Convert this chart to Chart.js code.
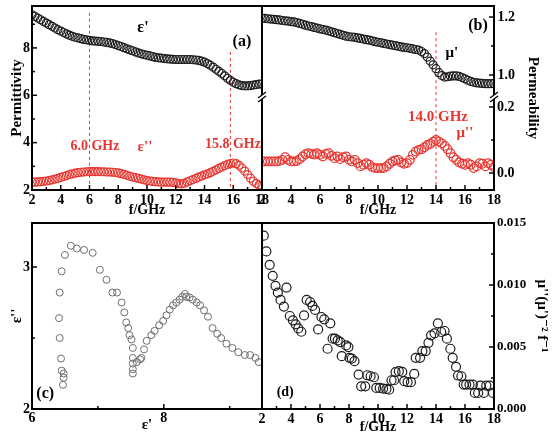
<!DOCTYPE html>
<html>
<head>
<meta charset="utf-8">
<script src="https://cdn.jsdelivr.net/npm/chart.js@4.4.1/dist/chart.umd.min.js"></script>
<style>
  html, body { margin: 0; padding: 0; background: #fff; }
  #wrap { position: relative; width: 555px; height: 438px; }
  #wrap canvas { position: absolute; left: 0; top: 0; }
</style>
</head>
<body>
<div id="wrap">
  <canvas id="panel-a" width="555" height="438"></canvas>
  <canvas id="panel-b" width="555" height="438"></canvas>
  <canvas id="panel-c" width="555" height="438"></canvas>
  <canvas id="panel-d" width="555" height="438"></canvas>
</div>
<script>
// (a)/(b) frequency sweep, GHz
const freq = [2, 2.2, 2.4, 2.6, 2.8, 3, 3.2, 3.4, 3.6, 3.8, 4, 4.2, 4.4, 4.6, 4.8, 5, 5.2, 5.4, 5.6, 5.8,
  6, 6.2, 6.4, 6.6, 6.8, 7, 7.2, 7.4, 7.6, 7.8, 8, 8.2, 8.4, 8.6, 8.8, 9, 9.2, 9.4, 9.6, 9.8,
  10, 10.2, 10.4, 10.6, 10.8, 11, 11.2, 11.4, 11.6, 11.8, 12, 12.2, 12.4, 12.6, 12.8, 13, 13.2, 13.4, 13.6, 13.8,
  14, 14.2, 14.4, 14.6, 14.8, 15, 15.2, 15.4, 15.6, 15.8, 16, 16.2, 16.4, 16.6, 16.8, 17, 17.2, 17.4, 17.6, 17.8, 18];

const epsReal = [9.40, 9.33, 9.26, 9.19, 9.12, 9.05, 8.98, 8.91, 8.84, 8.77,
  8.71, 8.65, 8.59, 8.54, 8.49, 8.45, 8.42, 8.39, 8.36, 8.34,
  8.32, 8.30, 8.29, 8.28, 8.27, 8.25, 8.23, 8.21, 8.18, 8.14,
  8.10, 8.06, 8.01, 7.96, 7.92, 7.88, 7.83, 7.79, 7.75, 7.72,
  7.69, 7.66, 7.63, 7.60, 7.58, 7.57, 7.55, 7.54, 7.53, 7.52,
  7.51, 7.51, 7.51, 7.51, 7.51, 7.51, 7.50, 7.49, 7.47, 7.44,
  7.40, 7.34, 7.27, 7.19, 7.10, 7.01, 6.92, 6.82, 6.72, 6.63,
  6.55, 6.49, 6.44, 6.41, 6.40, 6.40, 6.41, 6.43, 6.45, 6.47, 6.48];

const epsImag = [2.33, 2.33, 2.34, 2.35, 2.36, 2.38, 2.40, 2.43, 2.46, 2.49,
  2.53, 2.57, 2.61, 2.65, 2.68, 2.71, 2.73, 2.75, 2.76, 2.77,
  2.78, 2.78, 2.78, 2.78, 2.77, 2.77, 2.76, 2.76, 2.75, 2.74,
  2.72, 2.69, 2.66, 2.62, 2.58, 2.55, 2.52, 2.49, 2.46, 2.43,
  2.40, 2.38, 2.36, 2.35, 2.34, 2.33, 2.33, 2.33, 2.33, 2.32,
  2.30, 2.27, 2.26, 2.29, 2.34, 2.39, 2.44, 2.49, 2.54, 2.59,
  2.64, 2.68, 2.73, 2.79, 2.85, 2.91, 2.97, 3.03, 3.08, 3.12,
  3.14, 3.11, 3.04, 2.93, 2.80, 2.65, 2.50, 2.37, 2.27, 2.21, 2.18];

const muReal = [1.195, 1.195, 1.194, 1.193, 1.192, 1.191, 1.190, 1.188, 1.187, 1.186,
  1.184, 1.183, 1.181, 1.178, 1.175, 1.172, 1.169, 1.167, 1.164, 1.162,
  1.159, 1.157, 1.155, 1.152, 1.149, 1.146, 1.143, 1.140, 1.137, 1.134,
  1.132, 1.131, 1.130, 1.128, 1.126, 1.124, 1.122, 1.120, 1.118, 1.115,
  1.113, 1.111, 1.109, 1.107, 1.105, 1.103, 1.101, 1.099, 1.097, 1.095,
  1.094, 1.092, 1.090, 1.088, 1.086, 1.081, 1.074, 1.062, 1.048, 1.035,
  1.022, 1.008, 0.998, 0.993, 0.994, 0.996, 0.997, 0.997, 0.995, 0.991,
  0.987, 0.982, 0.978, 0.975, 0.973, 0.972, 0.971, 0.970, 0.970, 0.970, 0.971];

const muImag = [0.035, 0.035, 0.035, 0.035, 0.035, 0.035, 0.036, 0.040, 0.048, 0.040,
  0.035, 0.035, 0.036, 0.042, 0.050, 0.057, 0.060, 0.058, 0.056, 0.060,
  0.055, 0.050, 0.058, 0.060, 0.052, 0.045, 0.050, 0.042, 0.048, 0.050,
  0.040, 0.035, 0.040, 0.030, 0.020, 0.025, 0.030, 0.025, 0.018, 0.015,
  0.015, 0.015, 0.015, 0.020, 0.028, 0.035, 0.038, 0.040, 0.032, 0.028,
  0.030, 0.040, 0.055, 0.065, 0.070, 0.072, 0.078, 0.085, 0.088, 0.095,
  0.100, 0.095, 0.090, 0.082, 0.072, 0.060, 0.048, 0.040, 0.032, 0.028,
  0.025, 0.030, 0.025, 0.015, 0.020, 0.030, 0.028, 0.020, 0.030, 0.025, 0.018];

// (c) Cole-Cole semicircles
const coleReal = [6.47, 6.48, 6.48, 6.45, 6.44, 6.42, 6.41, 6.42, 6.45, 6.50,
  6.59, 6.68, 6.79, 6.92, 7.03, 7.13, 7.22, 7.29, 7.36, 7.40,
  7.43, 7.46, 7.48, 7.51, 7.53, 7.53, 7.53, 7.53, 7.53, 7.59,
  7.64, 7.66, 7.70, 7.74, 7.81, 7.86, 7.93, 7.99, 8.04, 8.09,
  8.14, 8.19, 8.24, 8.28, 8.32, 8.34, 8.39, 8.44, 8.50, 8.55,
  8.61, 8.67, 8.74, 8.81, 8.87, 8.95, 9.04, 9.13, 9.23, 9.31, 9.39, 9.44];
const coleImag = [2.17, 2.22, 2.25, 2.27, 2.355, 2.50, 2.64, 2.82, 2.97, 3.085,
  3.15, 3.13, 3.12, 3.10, 2.98, 2.91, 2.82, 2.82, 2.75, 2.68,
  2.61, 2.57, 2.52, 2.49, 2.43, 2.36, 2.32, 2.28, 2.25, 2.33,
  2.35, 2.36, 2.42, 2.48, 2.52, 2.55, 2.59, 2.62, 2.66, 2.70,
  2.73, 2.75, 2.77, 2.79, 2.81, 2.79, 2.785, 2.77, 2.75, 2.73,
  2.695, 2.65, 2.57, 2.53, 2.50, 2.46, 2.43, 2.40, 2.38, 2.38, 2.36, 2.33];

// (d) mu''(mu')^-2 f^-1
const dFreq = [2.12, 2.30, 2.53, 2.74, 2.93, 3.09, 3.28, 3.51, 3.69, 3.92,
  4.13, 4.32, 4.50, 4.71, 4.90, 5.08, 5.32, 5.48, 5.66, 5.87,
  6.10, 6.29, 6.52, 6.71, 6.87, 7.03, 7.22, 7.40, 7.50, 7.80,
  7.96, 8.03, 8.19, 8.38, 8.66, 8.84, 9.12, 9.26, 9.49, 9.72,
  9.88, 10.12, 10.35, 10.58, 10.77, 10.93, 11.11, 11.21, 11.44, 11.67,
  11.81, 12.04, 12.27, 12.50, 12.60, 12.90, 13.06, 13.29, 13.48, 13.66,
  13.90, 14.13, 14.36, 14.59, 14.75, 14.99, 15.15, 15.38, 15.52, 15.75,
  15.91, 16.08, 16.31, 16.54, 16.68, 16.91, 17.07, 17.30, 17.47, 17.70, 17.93];
const dValue = [0.01398, 0.01271, 0.01163, 0.01074, 0.00993, 0.00939, 0.00880, 0.00826, 0.00979, 0.00750,
  0.00715, 0.00683, 0.00650, 0.00623, 0.00755, 0.00880, 0.00863, 0.00831, 0.00799, 0.00642,
  0.00742, 0.00723, 0.00486, 0.00691, 0.00567, 0.00567, 0.00553, 0.00540, 0.00426, 0.00513,
  0.00499, 0.00413, 0.00407, 0.00386, 0.00278, 0.00183, 0.00183, 0.00272, 0.00264, 0.00256,
  0.00170, 0.00170, 0.00165, 0.00162, 0.00156, 0.00232, 0.00232, 0.00297, 0.00305, 0.00299,
  0.00224, 0.00216, 0.00216, 0.00283, 0.00413, 0.00413, 0.00467, 0.00467, 0.00534, 0.00594,
  0.00610, 0.00691, 0.00621, 0.00629, 0.00567, 0.00486, 0.00413, 0.00340, 0.00270, 0.00264,
  0.00197, 0.00197, 0.00197, 0.00197, 0.00130, 0.00130, 0.00189, 0.00130, 0.00189, 0.00189, 0.00130];

// tick values
const freqTicks = [2, 4, 6, 8, 10, 12, 14, 16, 18];
const freqMinor = [3, 5, 7, 9, 11, 13, 15, 17];
const epsTicks = [2, 4, 6, 8];
const epsMinor = [3, 5, 7, 9];
const muTopTicks = [1.0, 1.2];
const muTopMinor = [1.1];
const muBotTicks = [0.0, 0.2];
const muBotMinor = [0.1];
const coleXTicks = [6, 8];
const coleXMinor = [7, 9];
const coleYTicks = [2, 3];
const coleYMinor = [2.5];
const dTicks = [0, 0.005, 0.010, 0.015];
const dMinor = [0.0025, 0.0075, 0.0125];

const FONT = "'Liberation Serif', 'Times New Roman', 'DejaVu Serif', serif";
const RED = '#e8352f';
const INK = '#1c1c1c';

Chart.defaults.font.family = FONT;
Chart.defaults.font.weight = 'bold';
Chart.defaults.color = '#000';

function pairs(xs, ys) {
    return xs.map((x, i) => ({ x: x, y: ys[i] }));
}

// fixed scale sizes so the four plot areas line up
function fixSize(size) {
    return function(s) {
        if (s.isHorizontal()) s.height = size; else s.width = size;
        s.paddingTop = s.paddingBottom = s.paddingLeft = s.paddingRight = 0;
    };
}
function useTicks(values) {
    return function(s) { s.ticks = values.map(v => ({ value: v })); };
}

function axis(pos, min, max, ticks, size, extra) {
    return Object.assign({
        type: 'linear', position: pos, min: min, max: max,
        grid: { display: false, drawTicks: false },
        border: { display: false },
        ticks: { font: { size: 14, weight: 'bold' }, padding: 2, autoSkip: false, maxRotation: 0 },
        afterBuildTicks: useTicks(ticks),
        afterFit: fixSize(size)
    }, extra || {});
}

function title(text, size, pad) {
    return { display: true, text: text, font: { size: size, weight: 'bold' }, padding: { top: pad, bottom: pad } };
}

function rings(data, color, radius, width, yAxisID) {
    const ds = {
        data: data, showLine: false, pointStyle: 'circle',
        pointRadius: radius, pointBorderWidth: width,
        pointBorderColor: color, pointBackgroundColor: 'rgba(0,0,0,0)'
    };
    if (yAxisID) ds.yAxisID = yAxisID;
    return ds;
}

// frame, inward ticks, dashed markers, labels and axis breaks
function decor(cfg) {
    return {
        id: 'decor',
        beforeDatasetsDraw(chart) {
            const ctx = chart.ctx, a = chart.chartArea;
            ctx.save();
            ctx.strokeStyle = RED;
            ctx.lineWidth = 1;
            ctx.setLineDash([3, 3]);
            (cfg.lines || []).forEach(l => {
                const x = chart.scales.x.getPixelForValue(l.x);
                const y = chart.scales[l.yAxis].getPixelForValue(l.from);
                ctx.beginPath();
                ctx.moveTo(x, y);
                ctx.lineTo(x, a.bottom);
                ctx.stroke();
            });
            ctx.restore();
        },
        afterDraw(chart) {
            const ctx = chart.ctx, a = chart.chartArea;
            ctx.save();
            (cfg.ticks || []).forEach(t => {
                const s = chart.scales[t.id];
                const mark = (v, len) => {
                    const p = s.getPixelForValue(v);
                    ctx.beginPath();
                    if (s.isHorizontal()) { ctx.moveTo(p, a.bottom); ctx.lineTo(p, a.bottom - len); }
                    else if (s.position === 'left') { ctx.moveTo(a.left, p); ctx.lineTo(a.left + len, p); }
                    else { ctx.moveTo(a.right, p); ctx.lineTo(a.right - len, p); }
                    ctx.stroke();
                };
                ctx.strokeStyle = '#000';
                ctx.lineWidth = 1.5;
                s.ticks.forEach(tk => mark(tk.value, 5));
                t.minor.forEach(v => mark(v, 3));
            });
            ctx.strokeStyle = '#000';
            ctx.lineWidth = 2;
            ctx.strokeRect(a.left, a.top, a.right - a.left, a.bottom - a.top);

            if (cfg.gap) {
                const y = chart.scales[cfg.gap.yAxis].getPixelForValue(cfg.gap.at);
                [a.left, a.right].forEach(x => {
                    ctx.fillStyle = '#fff';
                    ctx.fillRect(x - 3, y - 2, 6, 4);
                    ctx.lineWidth = 1.3;
                    [-2, 2].forEach(d => {
                        ctx.beginPath();
                        ctx.moveTo(x - 4, y + d + 3);
                        ctx.lineTo(x + 4, y + d - 3);
                        ctx.stroke();
                    });
                });
            }

            ctx.textAlign = 'center';
            ctx.textBaseline = 'middle';
            (cfg.notes || []).forEach(n => {
                ctx.font = 'bold ' + n.size + 'px ' + FONT;
                ctx.fillStyle = n.color || '#000';
                const x = chart.scales.x.getPixelForValue(n.x);
                const y = chart.scales[n.yAxis || 'y'].getPixelForValue(n.y);
                ctx.fillText(n.text, x, y);
            });
            ctx.restore();
        }
    };
}

const base = { responsive: false, animation: false, events: [] };
const noLegend = { legend: { display: false }, tooltip: { enabled: false } };

// (a) permittivity
new Chart(document.getElementById('panel-a'), {
    type: 'scatter',
    data: { datasets: [
        rings(pairs(freq, epsReal), INK, 4, 1.2),
        rings(pairs(freq, epsImag), RED, 4, 1.2)
    ] },
    options: Object.assign({}, base, {
        layout: { padding: { left: 0, top: 6, right: 293, bottom: 219 } },
        plugins: noLegend,
        scales: {
            x: axis('bottom', 2, 18, freqTicks, 29, { title: title('f/GHz', 14, 0) }),
            y: axis('left', 2, 9.77, epsTicks, 32, { title: title('Permittivity', 15, 8) })
        }
    }),
    plugins: [decor({
        ticks: [{ id: 'x', minor: freqMinor }, { id: 'y', minor: epsMinor }],
        lines: [{ x: 6, yAxis: 'y', from: 9.48 }, { x: 15.8, yAxis: 'y', from: 7.83 }],
        notes: [
            { text: "\u03b5'", x: 9.72, y: 8.84, size: 16 },
            { text: '(a)', x: 16.6, y: 8.25, size: 16 },
            { text: '6.0 GHz', x: 6.38, y: 3.86, size: 14, color: RED },
            { text: "\u03b5''", x: 9.86, y: 3.82, size: 15, color: RED },
            { text: '15.8 GHz', x: 15.98, y: 3.94, size: 14, color: RED }
        ]
    })]
});

// (b) permeability, broken right axis
// yTop has zero width, so its labels are mirrored (mirror skips the label clip) and pushed out past the frame
new Chart(document.getElementById('panel-b'), {
    type: 'scatter',
    data: { datasets: [
        rings(pairs(freq, muReal), INK, 4, 1.2, 'yTop'),
        rings(pairs(freq, muImag), RED, 4.3, 1.2, 'yBot')
    ] },
    options: Object.assign({}, base, {
        layout: { padding: { left: 262, top: 6, right: 0, bottom: 219 } },
        plugins: noLegend,
        scales: {
            x: axis('bottom', 2, 18, freqTicks, 29, { title: title('f/GHz', 14, 0) }),
            yTop: axis('right', 0.6034, 1.238, muTopTicks, 0, {
                weight: 0,
                ticks: { font: { size: 14, weight: 'bold' }, mirror: true, crossAlign: 'near', padding: 21,
                    autoSkip: false, callback: v => v.toFixed(1) }
            }),
            yBot: axis('right', -0.0515, 0.506, muBotTicks, 61, {
                weight: 1,
                ticks: { font: { size: 14, weight: 'bold' }, padding: 3, autoSkip: false,
                    callback: v => v.toFixed(1) },
                title: title('Permeability', 15, 13)
            })
        }
    }),
    plugins: [decor({
        ticks: [{ id: 'x', minor: freqMinor }, { id: 'yTop', minor: muTopMinor }, { id: 'yBot', minor: muBotMinor }],
        lines: [{ x: 14, yAxis: 'yTop', from: 1.148 }],
        gap: { yAxis: 'yTop', at: 0.924 },
        notes: [
            { text: '(b)', x: 16.9, y: 1.169, yAxis: 'yTop', size: 16 },
            { text: "\u03bc'", x: 15.1, y: 1.076, yAxis: 'yTop', size: 15 },
            { text: '14.0 GHz', x: 14.14, y: 0.170, yAxis: 'yBot', size: 15, color: RED },
            { text: "\u03bc''", x: 16.0, y: 0.121, yAxis: 'yBot', size: 15, color: RED }
        ]
    })]
});

// (c) Cole-Cole plot
new Chart(document.getElementById('panel-c'), {
    type: 'scatter',
    data: { datasets: [rings(pairs(coleReal, coleImag), '#6e6e6e', 3.5, 1)] },
    options: Object.assign({}, base, {
        layout: { padding: { left: 0, top: 223, right: 293, bottom: 4 } },
        plugins: noLegend,
        scales: {
            x: axis('bottom', 6, 9.49, coleXTicks, 25, {
                ticks: { font: { size: 14, weight: 'bold' }, padding: 1, autoSkip: false, maxRotation: 0 },
                title: title("\u03b5'", 15, 0)
            }),
            y: axis('left', 2, 3.31, coleYTicks, 32, { title: title("\u03b5''", 15, 8) })
        }
    }),
    plugins: [decor({
        ticks: [{ id: 'x', minor: coleXMinor }, { id: 'y', minor: coleYMinor }],
        notes: [{ text: '(c)', x: 6.2, y: 2.11, size: 16 }]
    })]
});

// (d) eddy current check
new Chart(document.getElementById('panel-d'), {
    type: 'scatter',
    data: { datasets: [rings(pairs(dFreq, dValue), INK, 4.5, 1.2)] },
    options: Object.assign({}, base, {
        layout: { padding: { left: 262, top: 223, right: 0, bottom: 2 } },
        plugins: noLegend,
        scales: {
            x: axis('bottom', 2, 18, freqTicks, 27, { title: title('f/GHz', 14, 0) }),
            y: axis('right', 0, 0.015, dTicks, 61, {
                ticks: { font: { size: 13, weight: 'bold' }, padding: 3, autoSkip: false,
                    callback: v => v.toFixed(3) },
                title: title("\u03bc''(\u03bc')\u207b\u00b2 f\u207b\u00b9", 15, 4)
            })
        }
    }),
    plugins: [decor({
        ticks: [{ id: 'x', minor: freqMinor }, { id: 'y', minor: dMinor }],
        notes: [{ text: '(d)', x: 3.6, y: 0.0013, size: 14 }]
    })]
});
</script>
</body>
</html>
